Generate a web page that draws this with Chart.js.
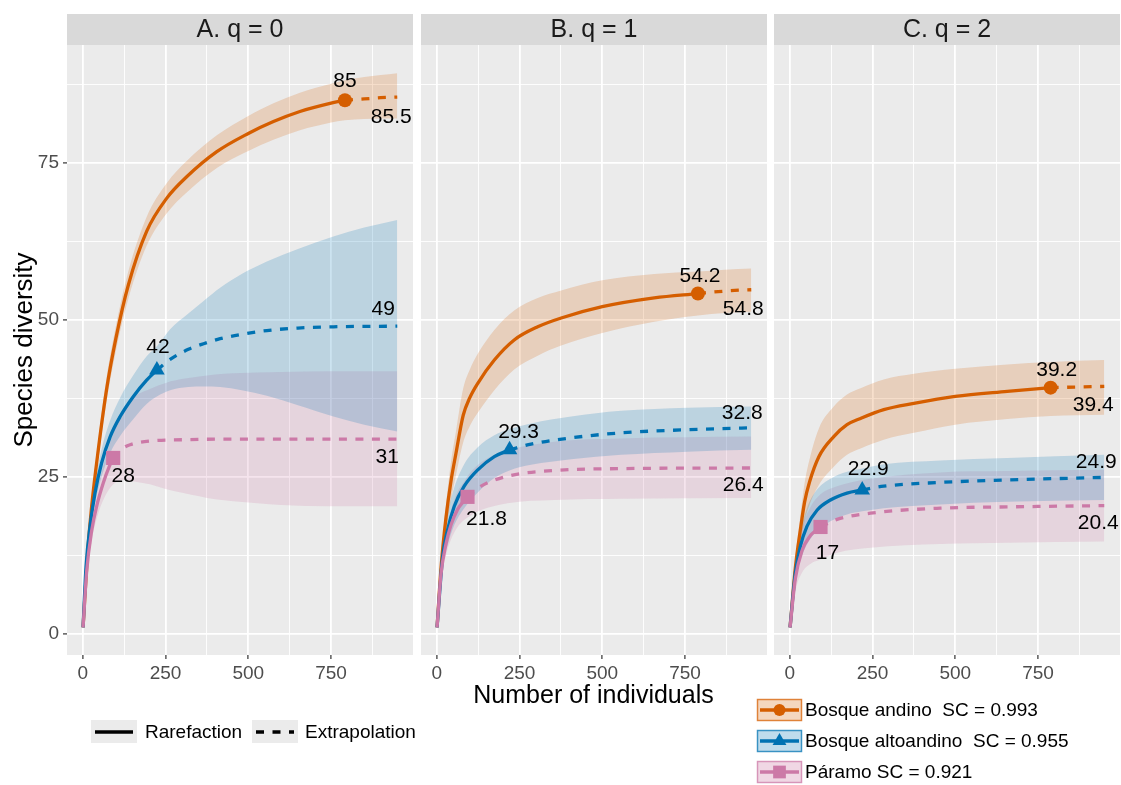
<!DOCTYPE html>
<html>
<head>
<meta charset="utf-8">
<script src="https://cdn.jsdelivr.net/npm/chart.js@4.4.1/dist/chart.umd.min.js"></script>
<style>
  html, body { margin: 0; padding: 0; background: #fff; overflow: hidden; }
  #wrap { position: relative; width: 1121px; height: 785px; }
  #wrap canvas { position: absolute; left: 0; top: 0; }
</style>
</head>
<body>
<div id="wrap">
  <canvas id="panel-q0" width="1121" height="785"></canvas>
  <canvas id="panel-q1" width="1121" height="785"></canvas>
  <canvas id="panel-q2" width="1121" height="785"></canvas>
</div>
<script>
const panelTitles = ["A. q = 0", "B. q = 1", "C. q = 2"];
const siteNames = ["Bosque andino", "Bosque altoandino", "Páramo"];
const siteCoverage = [0.993, 0.955, 0.921];
const lineTypeNames = ["Rarefaction", "Extrapolation"];
const xTickLabels = [0, 250, 500, 750];
const yTickLabels = [0, 25, 50, 75];
const xTitle = "Number of individuals";
const yTitle = "Species diversity";

// curves are [individuals, diversity]; bands are [individuals, lower, upper]
// q = 0
const andinoRareQ0 = [[1,1],[14,12.3],[27,20.3],[47,29.3],[72,38.9],[100,47],[138,55.6],[193,64.1],[254,69.4],[314,72.8],[405,76.8],[500,79.7],[576,81.6],[656,83.2],[747,84.5],[792,85]];
const andinoExtQ0 = [[792,85],[850,85.2],[900,85.4],[950,85.5]];
const andinoBandQ0 = [[1,1,1],[14,11.6,13],[27,19.2,21.4],[47,27.8,30.8],[72,37,40.8],[100,45,49],[138,53.4,57.8],[193,61.8,66.4],[254,67,71.8],[314,70.3,75.3],[405,74.2,79.4],[500,76.9,82.5],[576,78.7,84.5],[656,80.2,86.2],[747,81.4,87.6],[792,81.8,88.2],[850,82,88.7],[900,82.1,89],[950,82.1,89.3]];
const altoRareQ0 = [[1,1],[10,10.7],[22,17.1],[37,22.4],[57,27.2],[83,31.4],[113,34.6],[153,37.8],[193,40.4],[224,42]];
const altoExtQ0 = [[224,42],[264,43.7],[319,45.3],[365,46.2],[415,47],[480,47.7],[556,48.3],[650,48.7],[757,48.9],[950,49]];
const altoBandQ0 = [[1,1,1],[10,10,11.4],[22,16,18.2],[37,20.8,24],[57,25,29.4],[83,28.8,34],[113,31.5,37.6],[153,34.2,41.2],[193,36.6,44.2],[224,37.8,45.8],[264,38.8,48.5],[319,39.3,51],[365,39.4,53],[415,39.3,55.1],[480,38.8,57.3],[556,37.9,59.3],[650,36.4,61.3],[757,34.6,63.3],[850,33.3,64.7],[950,32.2,65.9]];
const paramoRareQ0 = [[1,1],[12,10],[27,16.4],[42,20.3],[62,24],[80,26.6],[92,28]];
const paramoExtQ0 = [[92,28],[120,29.5],[143,30.1],[203,30.7],[300,30.9],[450,31],[950,31]];
const paramoBandQ0 = [[1,1,1],[12,9,11],[27,14.8,18],[42,18.3,22.3],[62,21.3,26.7],[92,23.8,32],[123,24.5,35.3],[151,24.3,37.5],[203,23.8,39],[253,23,40],[304,22.4,40.6],[400,21.4,41.3],[455,21.1,41.5],[600,20.5,41.7],[750,20.3,41.8],[950,20.3,41.8]];

// q = 1
const andinoRareQ1 = [[1,1],[13,10.5],[28,18.5],[43,24.3],[58,28.7],[80,34.8],[100,37.6],[124,39.9],[174,43.6],[234,46.8],[305,48.9],[376,50.3],[500,52.1],[657,53.5],[789,54.2]];
const andinoExtQ1 = [[789,54.2],[850,54.5],[900,54.7],[950,54.8]];
const andinoBandQ1 = [[1,1,1],[13,9.3,11.7],[28,16.5,20.5],[43,21.3,27.3],[58,25.2,32.2],[80,30.5,39.1],[100,33.1,42.1],[124,35.2,44.6],[174,38.8,48.4],[234,42.1,51.5],[305,44.3,53.5],[376,45.9,54.7],[500,47.9,56.3],[657,49.7,57.3],[789,50.7,57.7],[870,51.1,58],[950,51.3,58.2]];
const altoRareQ1 = [[1,1],[18,12.3],[33,16.6],[53,20.3],[83,23.5],[124,26.1],[174,28.2],[220,29.3]];
const altoExtQ1 = [[220,29.3],[285,30.2],[406,31.2],[557,32],[758,32.5],[950,32.8]];
const altoBandQ1 = [[1,1,1],[18,10.8,13.8],[33,14.1,19.1],[53,17.3,23.3],[83,20,27],[124,22.5,29.7],[174,24.8,31.6],[220,26,32.6],[285,26.9,33.5],[406,27.8,34.6],[557,28.5,35.5],[758,29,36],[950,29.3,36.2]];
const paramoRareQ1 = [[1,1],[13,9.5],[28,14.3],[43,17.3],[63,19.8],[80,21],[93,21.8]];
const paramoExtQ1 = [[93,21.8],[134,23.5],[214,25.1],[355,26],[557,26.3],[950,26.4]];
const paramoBandQ1 = [[1,1,1],[13,8.5,10.5],[28,12.5,16.1],[43,15,19.6],[63,17,22.6],[80,18,24],[93,18.5,25.1],[134,19.7,27.3],[214,20.8,29.2],[355,21.3,30.6],[557,21.5,31.1],[950,21.6,31.4]];

// q = 2
const andinoRareQ2 = [[1,1],[17,10.5],[32,16.5],[45,21],[60,24.2],[88,28.2],[133,31.4],[173,33.3],[214,34.3],[284,35.7],[375,36.7],[500,37.8],[657,38.6],[788,39.2]];
const andinoExtQ2 = [[788,39.2],[870,39.3],[950,39.4]];
const andinoBandQ2 = [[1,1,1],[17,9,12],[32,14.3,18.7],[45,18,24],[60,20.6,27.8],[88,23.7,32.7],[133,26.6,36.2],[173,28.5,38.1],[214,29.5,39.1],[284,30.9,40.5],[375,32,41.4],[500,33.3,42.2],[657,34.2,42.9],[788,34.7,43.3],[950,34.9,43.6]];
const altoRareQ2 = [[1,1],[17,9.7],[32,13.9],[52,17.1],[83,19.7],[123,21.3],[173,22.4],[219,22.9]];
const altoExtQ2 = [[219,22.9],[284,23.5],[455,24.1],[657,24.5],[950,24.9]];
const altoBandQ2 = [[1,1,1],[17,8.2,11.2],[32,11.6,16.2],[52,14.2,20],[83,16.4,23],[123,17.9,24.7],[173,19,25.8],[219,19.5,26.3],[284,20,27],[455,20.6,27.6],[657,21,28],[950,21.3,28.5]];
const paramoRareQ2 = [[1,1],[17,8.8],[37,13.2],[62,15.6],[80,16.5],[93,17]];
const paramoExtQ2 = [[93,17],[143,18.2],[244,19.2],[455,20],[657,20.2],[950,20.4]];
const paramoBandQ2 = [[1,1,1],[17,6.8,10.8],[37,9.7,16.7],[62,11.1,20.1],[93,11.8,22.2],[143,12.9,23.5],[244,13.7,24.7],[455,14.3,25.7],[657,14.5,25.9],[950,14.7,26.1]];

const rareSeries = [
  [andinoRareQ0, altoRareQ0, paramoRareQ0],
  [andinoRareQ1, altoRareQ1, paramoRareQ1],
  [andinoRareQ2, altoRareQ2, paramoRareQ2],
];
const extSeries = [
  [andinoExtQ0, altoExtQ0, paramoExtQ0],
  [andinoExtQ1, altoExtQ1, paramoExtQ1],
  [andinoExtQ2, altoExtQ2, paramoExtQ2],
];
const bandSeries = [
  [andinoBandQ0, altoBandQ0, paramoBandQ0],
  [andinoBandQ1, altoBandQ1, paramoBandQ1],
  [andinoBandQ2, altoBandQ2, paramoBandQ2],
];

// ---- look ----
const FONT = "'Liberation Sans', Arial, sans-serif";
const W = 1121, H = 785;
const PLOT_TOP = 45, PLOT_BOTTOM = 655, STRIP_TOP = 14, X_AXIS_H = 40;
const plotBoxes = [{ left: 67, right: 413 }, { left: 421, right: 767 }, { left: 774, right: 1120 }];
const siteColors = ["#D55E00", "#0072B2", "#CC79A7"];
const siteBands = ["rgba(213,94,0,0.2)", "rgba(0,114,178,0.2)", "rgba(204,121,167,0.2)"];
const siteKeyFill = ["rgba(213,94,0,0.25)", "rgba(0,114,178,0.25)", "rgba(204,121,167,0.3)"];
const siteMarkers = [
  { pointStyle: "circle", radius: 7 },
  { pointStyle: "triangle", radius: 9 },
  { pointStyle: "rect", radius: 10 },
];
// text offsets (px) for [observed label, end label] of each site, per panel
const labelOffsets = [
  [[[0, -19], [-6, 20]], [[1, -23], [-14, -17]], [[10, 18], [-10, 18]]],
  [[[2, -17], [-8, 19]], [[9, -18], [-9, -15]], [[19, 22], [-8, 17]]],
  [[[6, -17], [-11, 19]], [[6, -21], [-8, -15]], [[7, 26], [-6, 18]]],
];

// major ticks plus the minor gridlines half way between
const withMinor = (ticks) => {
  const out = [];
  ticks.forEach((v, i) => {
    out.push(v);
    const step = i + 1 < ticks.length ? ticks[i + 1] - v : v - ticks[i - 1];
    out.push(v + step / 2);
  });
  return out;
};
const xGridValues = withMinor(xTickLabels);
const yGridValues = withMinor(yTickLabels);

const toXY = (pts, k = 1) => pts.map(p => ({ x: p[0], y: p[k] }));

function buildDatasets(p) {
  const marks = [], lines = [], bands = [];
  // later sites sit on top
  for (let s = 2; s >= 0; s--) {
    const rare = rareSeries[p][s];
    const obs = rare[rare.length - 1];
    marks.push({
      data: [{ x: obs[0], y: obs[1] }], showLine: false,
      pointStyle: siteMarkers[s].pointStyle, pointRadius: siteMarkers[s].radius,
      pointBackgroundColor: siteColors[s], pointBorderWidth: 0, borderWidth: 0,
    });
    lines.push({
      data: toXY(rare), borderColor: siteColors[s], borderWidth: 3.3,
      pointRadius: 0, fill: false, borderCapStyle: "butt",
      cubicInterpolationMode: "monotone",
    });
    lines.push({
      data: toXY(extSeries[p][s]), borderColor: siteColors[s], borderWidth: 3.3,
      borderDash: [8, 8.5], pointRadius: 0, fill: false, borderCapStyle: "butt",
      cubicInterpolationMode: "monotone",
    });
  }
  for (let s = 0; s < 3; s++) {
    const band = bandSeries[p][s];
    bands.push({
      data: toXY(band, 1), borderWidth: 0, borderColor: "rgba(0,0,0,0)",
      pointRadius: 0, fill: false, cubicInterpolationMode: "monotone",
    });
    bands.push({
      data: toXY(band, 2), borderWidth: 0, borderColor: "rgba(0,0,0,0)",
      pointRadius: 0, fill: "-1", backgroundColor: siteBands[s],
      cubicInterpolationMode: "monotone",
    });
  }
  return [...marks, ...lines, ...bands];
}

// grey panel background and the facet strip on top
const panelFrame = {
  id: "panelFrame",
  beforeDraw(chart, args, opts) {
    const { ctx, chartArea: a } = chart;
    ctx.save();
    ctx.fillStyle = "#EBEBEB";
    ctx.fillRect(a.left, a.top, a.right - a.left, a.bottom - a.top);
    ctx.fillStyle = "#D9D9D9";
    ctx.fillRect(a.left, STRIP_TOP, a.right - a.left, a.top - STRIP_TOP);
    ctx.fillStyle = "#1A1A1A";
    ctx.font = `25px ${FONT}`;
    ctx.textAlign = "center";
    ctx.textBaseline = "middle";
    ctx.fillText(opts.title, (a.left + a.right) / 2, (STRIP_TOP + a.top) / 2 + 1);
    ctx.restore();
  }
};

// observed and extrapolated end values written next to the curves
const valueLabels = {
  id: "valueLabels",
  afterDatasetsDraw(chart, args, opts) {
    const p = opts.panel;
    const { ctx, scales: { x, y } } = chart;
    ctx.save();
    ctx.font = `21px ${FONT}`;
    ctx.fillStyle = "#000";
    ctx.textAlign = "center";
    ctx.textBaseline = "middle";
    for (let s = 0; s < 3; s++) {
      const rare = rareSeries[p][s], ext = extSeries[p][s];
      const obs = rare[rare.length - 1], end = ext[ext.length - 1];
      const [o, e] = labelOffsets[p][s];
      ctx.fillText(String(obs[1]), x.getPixelForValue(obs[0]) + o[0], y.getPixelForValue(obs[1]) + o[1]);
      ctx.fillText(String(end[1]), x.getPixelForValue(end[0]) + e[0], y.getPixelForValue(end[1]) + e[1]);
    }
    ctx.restore();
  }
};

// shared x title and the two keys under the panels
const pageExtras = {
  id: "pageExtras",
  afterDraw(chart) {
    const ctx = chart.ctx;
    ctx.save();
    ctx.fillStyle = "#000";
    ctx.font = `25px ${FONT}`;
    ctx.textAlign = "center";
    ctx.textBaseline = "middle";
    ctx.fillText(xTitle, (plotBoxes[0].left + plotBoxes[2].right) / 2, 696);

    // line type key
    ctx.font = `19px ${FONT}`;
    ctx.textAlign = "left";
    const keyX = [91, 252], textX = [145, 305];
    lineTypeNames.forEach((name, i) => {
      ctx.fillStyle = "#EBEBEB";
      ctx.fillRect(keyX[i], 720, 46, 23);
      ctx.strokeStyle = "#000";
      ctx.lineWidth = 3.5;
      ctx.setLineDash(i === 0 ? [] : [8, 8.5]);
      ctx.beginPath();
      ctx.moveTo(keyX[i] + 4, 732);
      ctx.lineTo(keyX[i] + 42, 732);
      ctx.stroke();
      ctx.setLineDash([]);
      ctx.fillStyle = "#000";
      ctx.fillText(name, textX[i], 733);
    });

    // site key
    const rowY = [710, 741, 772];
    const gaps = ["  ", "  ", " "];
    siteNames.forEach((name, s) => {
      const cy = rowY[s];
      ctx.fillStyle = "#fff";
      ctx.fillRect(757, cy - 11, 45, 22);
      ctx.fillStyle = siteKeyFill[s];
      ctx.fillRect(757, cy - 11, 45, 22);
      ctx.strokeStyle = siteColors[s];
      ctx.globalAlpha = 0.7;
      ctx.lineWidth = 1.5;
      ctx.strokeRect(757.5, cy - 10.5, 44, 21);
      ctx.globalAlpha = 1;
      ctx.lineWidth = 3.5;
      ctx.beginPath();
      ctx.moveTo(760, cy);
      ctx.lineTo(799, cy);
      ctx.stroke();
      ctx.fillStyle = siteColors[s];
      Chart.helpers.drawPoint(ctx, {
        pointStyle: siteMarkers[s].pointStyle, radius: siteMarkers[s].radius - 1,
        rotation: 0, borderWidth: 0,
      }, 779.5, cy);
      ctx.fillStyle = "#000";
      ctx.fillText(`${name}${gaps[s]}SC = ${siteCoverage[s].toFixed(3)}`, 805, cy + 1);
    });
    ctx.restore();
  }
};

function panelOptions(p) {
  const box = plotBoxes[p];
  const first = p === 0;
  const isMajorX = v => xTickLabels.includes(v);
  const isMajorY = v => yTickLabels.includes(v);
  return {
    responsive: false,
    animation: false,
    devicePixelRatio: 1,
    layout: {
      autoPadding: false,
      padding: {
        left: first ? 0 : box.left,
        right: W - box.right,
        top: PLOT_TOP,
        bottom: H - PLOT_BOTTOM - X_AXIS_H,
      }
    },
    plugins: {
      legend: { display: false },
      tooltip: { enabled: false },
      filler: { drawTime: "beforeDatasetsDraw" },
      panelFrame: { title: panelTitles[p] },
      valueLabels: { panel: p },
    },
    scales: {
      x: {
        type: "linear",
        min: -47.5,
        max: 997.5,
        afterBuildTicks: s => { s.ticks = xGridValues.map(v => ({ value: v })); },
        afterFit: s => { s.height = X_AXIS_H; s.paddingLeft = 0; s.paddingRight = 0; },
        border: { display: false },
        grid: {
          color: "#FFFFFF",
          lineWidth: c => (c.tick && isMajorX(c.tick.value) ? 1.8 : 0.9),
          tickColor: c => (c.tick && isMajorX(c.tick.value) ? "#333333" : "rgba(0,0,0,0)"),
          tickLength: 4,
          tickWidth: 1.2,
        },
        ticks: {
          autoSkip: false,
          maxRotation: 0,
          padding: 3,
          color: "#4D4D4D",
          font: { size: 19, family: FONT },
          callback: v => (isMajorX(v) ? String(v) : ""),
        },
      },
      y: {
        type: "linear",
        min: -3.4,
        max: 93.8,
        afterBuildTicks: s => { s.ticks = yGridValues.map(v => ({ value: v })); },
        afterFit: s => { s.width = first ? box.left : 0; s.paddingTop = 0; s.paddingBottom = 0; },
        border: { display: false },
        title: {
          display: first,
          text: yTitle,
          color: "#000",
          font: { size: 26, family: FONT },
          padding: { top: 9, bottom: 0 },
        },
        grid: {
          color: "#FFFFFF",
          lineWidth: c => (c.tick && isMajorY(c.tick.value) ? 1.8 : 0.9),
          tickColor: c => (c.tick && isMajorY(c.tick.value) ? "#333333" : "rgba(0,0,0,0)"),
          drawTicks: first,
          tickLength: 4,
          tickWidth: 1.2,
        },
        ticks: {
          display: first,
          autoSkip: false,
          padding: 4,
          color: "#4D4D4D",
          font: { size: 19, family: FONT },
          callback: v => (isMajorY(v) ? String(v) : ""),
        },
      },
    },
  };
}

["panel-q0", "panel-q1", "panel-q2"].forEach((id, p) => {
  new Chart(document.getElementById(id), {
    type: "line",
    data: { datasets: buildDatasets(p) },
    options: panelOptions(p),
    plugins: p === 0 ? [panelFrame, valueLabels, pageExtras] : [panelFrame, valueLabels],
  });
});
</script>
</body>
</html>
